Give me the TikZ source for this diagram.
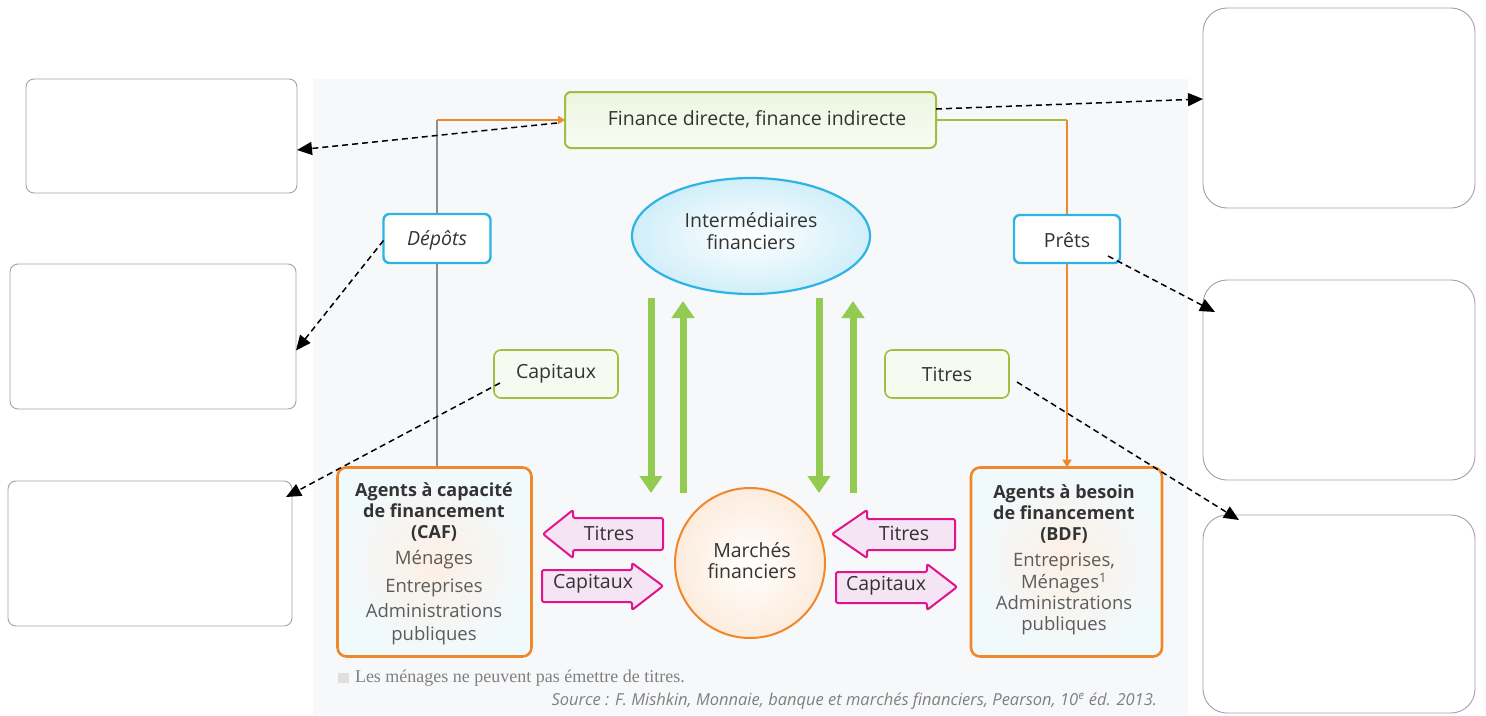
\documentclass[tikz,border=0pt]{standalone}
\usepackage{fontspec}
\setmainfont{Open Sans}
\newfontfamily\notefont{Liberation Serif}
\usetikzlibrary{arrows.meta,shapes.geometric}
\pgfdeclarelayer{back}
\pgfsetlayers{back,main}

\definecolor{boxline}{HTML}{A99DB2}
\definecolor{leafgreen}{HTML}{93CA52}
\definecolor{olivegreen}{HTML}{A2BE3C}
\definecolor{skyblue}{HTML}{2DB4E4}
\definecolor{flowor}{HTML}{F0872A}
\definecolor{pinkline}{HTML}{E0148C}
\definecolor{pinkfill}{HTML}{F5E4F4}
\definecolor{ink}{HTML}{333333}
\definecolor{softink}{HTML}{5C5C5C}
\definecolor{panel}{HTML}{F7F8FA}
\definecolor{wiregray}{HTML}{8E8E8E}

\newcommand\agenthead[1]{{\bfseries\color{ink}#1}}
\newcommand\agentline[1]{{\fontsize{18.5}{21}\selectfont\color{softink}#1}}

\begin{document}
\begin{tikzpicture}[x=1pt,y=-1pt,
  every node/.style={inner sep=0pt,outer sep=0pt,text=ink,font=\fontsize{19.5}{22}\selectfont},
  blank/.style={rectangle,draw=boxline,line width=0.9pt,fill=white},
  blankL/.style={blank,rounded corners=8pt},
  blankR/.style={blank,rounded corners=24pt},
  pointer/.style={draw=black,line width=1.5pt,dash pattern=on 6pt off 4pt,-{Triangle[length=15pt,width=13pt]}},
  greenbox/.style={rectangle,rounded corners=7pt,draw=olivegreen,line width=1.6pt,fill=leafgreen!8},
  bluebox/.style={rectangle,rounded corners=6pt,draw=skyblue,line width=2.4pt,fill=white},
  agentbox/.style={rectangle,rounded corners=9pt,draw=flowor,line width=2.6pt,inner color=flowor!13,outer color=skyblue!7,align=center},
  greenflow/.style={draw=leafgreen,line width=7pt,-{Triangle[length=17pt,width=22pt]}},
  pinkarrow/.style={draw=pinkline,line width=2pt,fill=pinkfill,rounded corners=2pt},
  wire/.style={line width=1.6pt},
]
\useasboundingbox (0,0) rectangle (1486,715);
\begin{pgfonlayer}{back}
  \fill[white] (0,0) rectangle (1486,715);
  \fill[panel] (313,79) rectangle (1188,715);
\end{pgfonlayer}

% blank answer boxes
\node[blankL,minimum width=271pt,minimum height=114pt] (noteA) at (161.5,136) {};
\node[blankL,minimum width=286pt,minimum height=145pt] (noteB) at (153,336.5) {};
\node[blankL,minimum width=284pt,minimum height=145pt] (noteC) at (150,553.5) {};
\node[blankR,minimum width=272pt,minimum height=200pt] (noteD) at (1339,108) {};
\node[blankR,minimum width=272pt,minimum height=200pt] (noteE) at (1339,380) {};
\node[blankR,minimum width=272pt,minimum height=198pt] (noteF) at (1339,614) {};

% central boxes
\node[rectangle,rounded corners=6pt,draw=olivegreen,line width=2pt,top color=leafgreen!18,bottom color=leafgreen!6,
      minimum width=371pt,minimum height=56pt] (fin) at (750.5,120) {};
\node (finlabel) at (757,119) {Finance directe, finance indirecte};

\node[ellipse,draw=skyblue,line width=2.2pt,inner color=white,outer color=skyblue!22,
      minimum width=238pt,minimum height=116pt] (inter) at (751,236) {};
\node[align=center] (interlabel) at (751,231) {Intermédiaires\\financiers};

\node[bluebox,minimum width=107pt,minimum height=49pt] (depots) at (437,238.5) {};
\node (depotslabel) at (437,240) {\itshape Dépôts};
\node[bluebox,minimum width=106pt,minimum height=48pt] (prets) at (1067,239) {};
\node (pretslabel) at (1067,240) {Prêts};

\node[greenbox,minimum width=124pt,minimum height=48pt] (capg) at (556,374) {Capitaux};
\node[greenbox,minimum width=124pt,minimum height=48pt] (titg) at (947,374) {Titres};

\node[circle,draw=flowor,line width=2pt,inner color=white,outer color=flowor!16,
      minimum size=150pt] (marches) at (750,563) {};
\node[align=center,font=\fontsize{19.5}{21}\selectfont] (marcheslabel) at (752,561) {Marchés\\financiers};

\node[agentbox,minimum width=194pt,minimum height=189pt] (caf) at (434.5,562) {};
\node[align=center,font=\fontsize{18}{21}\selectfont] (caftext) at (434,564) {\agenthead{Agents à capacité}\\ \agenthead{de financement}\\ \agenthead{(CAF)}\\[5pt]
  \agentline{Ménages}\\[7pt] \agentline{Entreprises}\\[4pt] \agentline{Administrations}\\[2pt] \agentline{publiques}};
\node[agentbox,minimum width=191pt,minimum height=189pt] (bdf) at (1066.5,562) {};
\node[align=center,font=\fontsize{18}{21}\selectfont] (bdftext) at (1064,560) {\agenthead{Agents à besoin}\\ \agenthead{de financement}\\ \agenthead{(BDF)}\\[5pt]
  \agentline{Entreprises,}\\[1pt] \agentline{Ménages\textsuperscript{1}}\\ \agentline{Administrations}\\ \agentline{publiques}};

% flows between the agents and the two channels
\begin{pgfonlayer}{back}
  \coordinate (lcorner) at (depots |- fin.west);
  \coordinate (rcorner) at (prets |- fin.east);
  \draw[wire,draw=wiregray] (depots |- caf.north) -- (lcorner);
  \draw[wire,draw=flowor,line width=2pt,-{Triangle[length=7pt,width=8pt]}] (lcorner) -- (fin.west);
  \draw[wire,draw=olivegreen] (fin.east) -- (rcorner);
  \draw[wire,draw=flowor,line width=2pt,-{Triangle[length=8pt,width=9pt]}] (rcorner) -- (prets |- bdf.north);
\end{pgfonlayer}

% green flows between the intermediaries and the markets
\coordinate (g1a) at (651,298); \coordinate (g1b) at (651,493);
\coordinate (g2a) at (683,493); \coordinate (g2b) at (683,301);
\coordinate (g3a) at (819,298); \coordinate (g3b) at (819,493);
\coordinate (g4a) at (853,493); \coordinate (g4b) at (853,301);
\draw[greenflow] (g1a) -- (g1b);
\draw[greenflow] (g2a) -- (g2b);
\draw[greenflow] (g3a) -- (g3b);
\draw[greenflow] (g4a) -- (g4b);

% block arrows on the market side
\draw[pinkarrow] (543,534) -- (573,510) -- (573,518) -- (663,518) -- (663,550) -- (573,550) -- (573,558) -- cycle;
\node (titresL) at (609,533) {Titres};
\draw[pinkarrow] (542,570) -- (632,570) -- (632,563) -- (663,586) -- (632,610) -- (632,602) -- (542,602) -- cycle;
\node (capL) at (593,584) {Capitaux};
\draw[pinkarrow] (832,534) -- (867,510) -- (867,519) -- (955,519) -- (955,550) -- (867,550) -- (867,558) -- cycle;
\node (titresR) at (904,533) {Titres};
\draw[pinkarrow] (836,572) -- (927,572) -- (927,564) -- (957,587) -- (927,610) -- (927,603) -- (836,603) -- cycle;
\node (capR) at (886,586) {Capitaux};

% notes under the figure
\fill[gray!25] (338,673) rectangle (349,683);
\node[anchor=west,font=\notefont\fontsize{18}{20}\selectfont,text=gray] (footnote) at (355,678)
  {Les ménages ne peuvent pas émettre de titres.};
\node[anchor=east,font=\itshape\fontsize{16.5}{19}\selectfont,text=gray] (source) at (1157,701)
  {Source : F. Mishkin, Monnaie, banque et marchés financiers, Pearson, 10\textsuperscript{e} éd. 2013.};

% dashed pointers to the blank boxes
\draw[pointer] ([xshift=-8pt,yshift=-3pt]fin.west) -- ([yshift=-14pt]noteA.east);
\draw[pointer] ([yshift=11pt]fin.east) -- ([yshift=9pt]noteD.west);
\draw[pointer] ([yshift=-2pt]depots.west) -- ([yshift=-14pt]noteB.east);
\draw[pointer] ([xshift=6pt,yshift=-9pt]capg.west) -- ([xshift=-6pt,yshift=-16pt]noteC.north east);
\draw[pointer] ([xshift=-12pt,yshift=7pt]prets.south east) -- ([xshift=12pt,yshift=-32pt]noteE.north west);
\draw[pointer] ([xshift=8pt,yshift=-8pt]titg.east) -- ([xshift=36pt,yshift=-5pt]noteF.north west);
\end{tikzpicture}
\end{document}
